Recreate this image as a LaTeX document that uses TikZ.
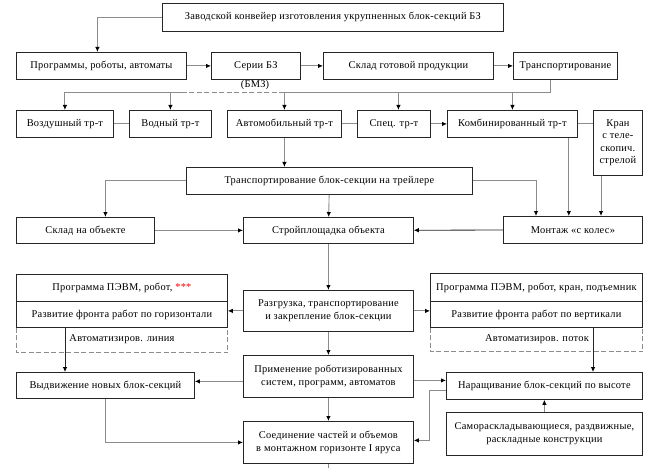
\documentclass[tikz,border=0pt]{standalone}
\usepackage{fontspec}
\setmainfont{Liberation Serif}[LetterSpace=2.5]
\usetikzlibrary{arrows.meta,calc}
\newcommand\bx[6]{\node[box, minimum width={#4pt-#2pt}, minimum height={#5pt-#3pt}] (#1) at (#2,#3) {#6};}
\begin{document}
\begin{tikzpicture}[x=1pt,y=-1pt,
  txt/.style={font=\rmfamily\fontsize{10.4}{12.5}\selectfont, inner sep=0pt},
  box/.style={txt, draw=black!85, line width=0.8pt, fill=white, inner sep=1pt, align=center, anchor=north west},
  conn/.style={draw=black!45, line width=0.9pt},
  arr/.style={conn, -{Latex[length=5pt,width=4.5pt,color=black]}},
  darr/.style={arr, draw=black!85, line width=0.8pt},
  dline/.style={draw=black!45, line width=0.9pt, dash pattern=on 5pt off 2.5pt}]
\useasboundingbox (0,0) rectangle (656,468);
\bx{top}{162}{3}{503}{31}{Заводской конвейер изготовления укрупненных блок-секций БЗ}
\bx{prog}{16}{52}{186}{79}{Программы, роботы, автоматы}
\bx{serii}{211}{52}{300}{79}{Серии БЗ}
\bx{sklad}{323}{52}{493}{79}{Склад готовой продукции}
\bx{transp}{513}{52}{617}{79}{Транспортирование}
\node[txt] (bmz) at (255,85) {(БМЗ)};
\bx{vozd}{16}{110}{113}{137}{Воздушный тр-т}
\bx{vodn}{129}{110}{211}{137}{Водный тр-т}
\bx{avto}{227}{110}{341}{137}{Автомобильный тр-т}
\bx{spec}{357}{110}{430}{137}{Спец. тр-т}
\bx{komb}{447}{110}{577}{137}{Комбинированный тр-т}
\bx{kran}{593}{110}{642}{175}{Кран\\с теле-\\скопич.\\стрелой}
\bx{trail}{186}{167}{472}{194}{Транспортирование блок-секции на трейлере}
\bx{skladob}{16}{217}{154}{243}{Склад на объекте}
\bx{stroy}{243}{217}{413}{243}{Стройплощадка объекта}
\bx{montazh}{503}{216}{642}{243}{Монтаж «с колес»}
\bx{progL}{16}{274}{227}{301}{Программа ПЭВМ, робот, \textcolor{red}{***}}
\bx{razvL}{16}{301}{227}{327}{Развитие фронта работ по горизонтали}
\bx{razg}{243}{290}{413}{331}{Разгрузка, транспортирование\\и закрепление блок-секции}
\bx{progR}{430}{273}{642}{301}{Программа ПЭВМ, робот, кран, подъемник}
\bx{razvR}{430}{301}{642}{327}{Развитие фронта работ по вертикали}
\bx{prim}{243}{355}{413}{397}{Применение роботизированных\\систем, программ, автоматов}
\bx{vydv}{16}{372}{194}{398}{Выдвижение новых блок-секций}
\bx{narash}{446}{372}{642}{399}{Наращивание блок-секций по высоте}
\bx{soed}{243}{421}{413}{463}{Соединение частей и объемов\\в монтажном горизонте I яруса}
\bx{samo}{446}{412}{642}{455}{Самораскладывающиеся, раздвижные,\\раскладные конструкции}
% dashed extensions
\draw[dline] (razvL.south west) -- ++(0,25) -| (razvL.south east);
\node[txt] (avtL) at (122,339) {Автоматизиров. линия};
\draw[dline] (razvR.south west) -- ++(0,24) -| (razvR.south east);
\node[txt] (avtR) at (537,339) {Автоматизиров. поток};
% top row
\coordinate (pn) at ($(prog.north)+(-4,0)$);
\draw[arr] (top.west) -| (pn);
\draw[arr] (prog) -- (serii);
\draw[arr] (serii) -- (sklad);
\draw[arr] (sklad) -- (transp);
% bus
\coordinate (bus) at (0,92);
\coordinate (tb) at ($(transp.south west)+(37,0)$);
\coordinate (busR) at (tb |- bus);
\coordinate (busA) at (avto.north |- bus);
\coordinate (busD) at (187,92);
\coordinate (busL) at (vozd.north |- bus);
\draw[conn] (tb) -- (busR) -- (busA);
\draw[dline] (busA) -- (busD);
\draw[conn] (busD) -- (busL);
\draw[arr] (busL) -- (vozd.north);
\draw[arr] (vodn.north |- bus) -- (vodn.north);
\draw[arr] (busA) -- (avto.north);
\coordinate (sp) at ($(spec.north)+(4.5,0)$);
\draw[arr] (sp |- bus) -- (sp);
\draw[arr] (komb.north |- bus) -- (komb.north);
% row 3 links
\draw[conn] (vozd) -- (vodn);
\draw[conn] (avto) -- (spec);
\draw[arr] (spec) -- (komb);
\draw[conn] (komb.east) -- (komb.east -| kran.west);
% to trailer
\draw[arr] (avto.south) -- (avto.south |- trail.north);
\coordinate (sn) at ($(skladob.north)+(20,0)$);
\draw[arr] (trail.west) -| (sn);
\coordinate (mn1) at ($(montazh.north west)+(33,0)$);
\draw[arr] (trail.east) -| (mn1);
\coordinate (kb) at ($(komb.south east)+(-9,0)$);
\draw[arr] (kb) -- (kb |- montazh.north);
\coordinate (krb) at ($(kran.south west)+(8,0)$);
\draw[arr] (krb) -- (krb |- montazh.north);
\draw[arr] (trail) -- (stroy);
\draw[arr] (skladob) -- (stroy);
\draw[darr] (montazh) -- (stroy);
\draw[arr] (stroy) -- (razg);
% composite
\draw[arr] (razg.west) -- (razg.west -| razvL.east);
\draw[arr] (razg.east) -- (razg.east -| razvR.west);
\coordinate (lb) at ($(razvL.south west)+(49,0)$);
\draw[darr] (lb) -- (lb |- vydv.north);
\coordinate (rb) at ($(razvR.south west)+(163,0)$);
\draw[darr] (rb) -- (rb |- narash.north);
\draw[arr] (razg) -- (prim);
\coordinate (pw) at ($(prim.west)+(0,5)$);
\draw[arr] (pw) -- (pw -| vydv.east);
\coordinate (pe) at ($(prim.east)+(0,4)$);
\draw[arr] (pe) -- (pe -| narash.west);
\draw[arr] (prim) -- (soed);
\coordinate (bot) at (soed.south |- 0,468);
\draw[conn] (soed.south) -- (bot);
\draw[arr] (vydv.south) |- (soed.west);
\coordinate (nw) at ($(narash.west)+(0,5)$);
\draw[arr] (nw) -- ++(-17,0) |- ($(soed.east)+(0,-2)$);
\draw[arr] (samo) -- (narash);
\end{tikzpicture}
\end{document}
